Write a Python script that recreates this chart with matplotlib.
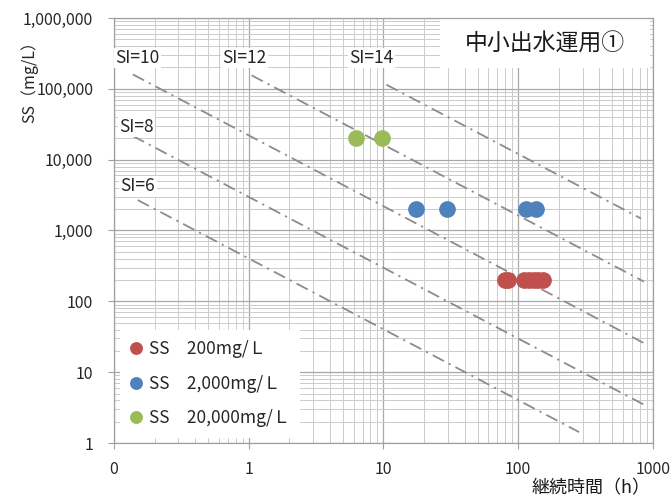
import matplotlib
matplotlib.use('Agg')
import matplotlib.pyplot as plt
import numpy as np
from matplotlib.ticker import FixedLocator, FixedFormatter, LogLocator, NullFormatter
from matplotlib.patches import Rectangle

plt.rcParams['font.family'] = ['Noto Sans CJK JP', 'DejaVu Sans']

# observed duration (h) and SS (mg/L) per SS class
t_200 = [80, 84, 111, 120, 130, 140, 153]
ss_200 = [200] * len(t_200)
t_2000 = [17.3, 29.8, 115, 136]
ss_2000 = [2000] * len(t_2000)
t_20000 = [6.3, 9.7]
ss_20000 = [20000] * len(t_20000)

labels = ['SS\u3000200mg/\uff2c', 'SS\u30002,000mg/\uff2c', 'SS\u300020,000mg/\uff2c']
colors = ['#C0504D', '#4F81BD', '#9BBB59']

# stress index lines SI = ln(SS * t), drawn between these durations
si_values = [6, 8, 10, 12, 14]
si_t_start = [0.15, 0.138, 0.138, 1.05, 10.5]
si_t_end = [283, 857, 857, 857, 815]
si_label_pos = [(0.112, 4200), (0.11, 29000), (0.103, 273000), (0.64, 273000), (5.6, 273000)]

xticks = [0.1, 1, 10, 100, 1000]
xticklabels = ['0', '1', '10', '100', '1000']
yticks = [1, 10, 100, 1000, 10000, 100000, 1000000]
yticklabels = ['1', '10', '100', '1,000', '10,000', '100,000', '1,000,000']

fig = plt.figure(figsize=(6.72, 4.98), dpi=100)
ax = fig.add_axes([0.1696, 0.1104, 0.8021, 0.8535])
ax.set_xscale('log')
ax.set_yscale('log')
ax.set_xlim(0.1, 1000)
ax.set_ylim(1, 1000000)
ax.set_axisbelow(True)

ax.xaxis.set_major_locator(FixedLocator(xticks))
ax.xaxis.set_major_formatter(FixedFormatter(xticklabels))
ax.yaxis.set_major_locator(FixedLocator(yticks))
ax.yaxis.set_major_formatter(FixedFormatter(yticklabels))
ax.xaxis.set_minor_locator(LogLocator(base=10, subs=np.arange(2, 10), numticks=20))
ax.yaxis.set_minor_locator(LogLocator(base=10, subs=np.arange(2, 10), numticks=20))
ax.xaxis.set_minor_formatter(NullFormatter())
ax.yaxis.set_minor_formatter(NullFormatter())

ax.grid(which='major', color='#a8a8a8', linewidth=0.9)
ax.grid(which='minor', color='#cccccc', linewidth=0.7)
for s in ax.spines.values():
    s.set_color('#a0a0a0')
    s.set_linewidth(0.9)
ax.tick_params(which='major', length=4, color='#a0a0a0', labelsize=11.5, labelcolor='#262626')
ax.tick_params(axis='y', which='major', pad=11)
ax.tick_params(axis='x', which='major', pad=9)
ax.tick_params(which='minor', length=0)

for si, t0, t1, pos in zip(si_values, si_t_start, si_t_end, si_label_pos):
    t = np.array([t0, t1])
    ax.plot(t, np.exp(si) / t, color='#8c8c8c', linewidth=1.3,
            dashes=(7, 3, 1.2, 3), zorder=2)
    ax.text(pos[0], pos[1], 'SI=%d' % si, fontsize=12.5, color='#262626',
            ha='left', va='center', zorder=3,
            bbox=dict(fc='white', ec='none', pad=1.0))

for t, ss, c, lab in zip([t_200, t_2000, t_20000], [ss_200, ss_2000, ss_20000], colors, labels):
    ax.plot(t, ss, 'o', color=c, markersize=11, label=lab, zorder=4)

leg = ax.legend(loc='upper left', bbox_to_anchor=(0.011, 0.266), frameon=True,
                fancybox=False, edgecolor='none', facecolor='white', framealpha=1,
                fontsize=12.5, markerscale=0.75, handlelength=0.6, handletextpad=0.45,
                labelspacing=0.95, borderpad=0.6, borderaxespad=0)
for txt in leg.get_texts():
    txt.set_color('#262626')

ax.add_patch(Rectangle((0.605, 0.882), 0.39, 0.115, transform=ax.transAxes,
                       fc='white', ec='none', zorder=2.5))
ax.text(0.80, 0.939, '中小出水運用①', transform=ax.transAxes, fontsize=16.5,
        ha='center', va='center', color='#1a1a1a', zorder=3)

ax.text(-0.156, 0.858, 'SS（mg/L）', transform=ax.transAxes, rotation=90,
        fontsize=11.5, ha='center', va='center', color='#262626')
ax.text(0.995, -0.107, '継続時間（h）', transform=ax.transAxes,
        fontsize=13, ha='right', va='center', color='#1a1a1a')

fig.savefig('out.png', dpi=100)
